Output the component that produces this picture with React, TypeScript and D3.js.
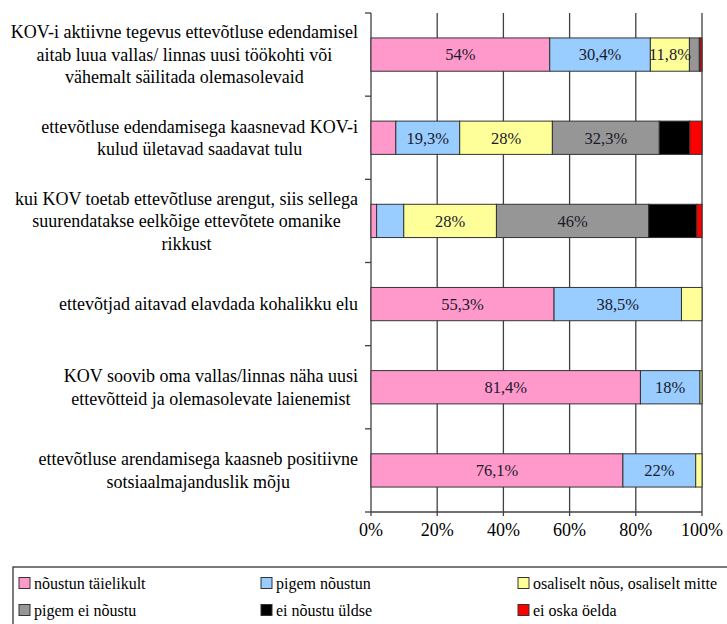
import React, { useEffect, useRef } from "react";
import * as d3 from "d3";

const categories: string[][] = [
  ["KOV-i aktiivne tegevus ettevõtluse edendamisel", "aitab luua vallas/ linnas uusi töökohti või", "vähemalt säilitada olemasolevaid"],
  ["ettevõtluse edendamisega kaasnevad KOV-i", "kulud ületavad saadavat tulu"],
  ["kui KOV toetab ettevõtluse arengut, siis sellega", "suurendatakse eelkõige ettevõtete omanike", "rikkust"],
  ["ettevõtjad aitavad elavdada kohalikku elu"],
  ["KOV soovib oma vallas/linnas näha uusi", "ettevõtteid ja olemasolevate laienemist"],
  ["ettevõtluse arendamisega kaasneb positiivne", "sotsiaalmajanduslik mõju"],
];

const seriesNames = [
  "nõustun täielikult",
  "pigem nõustun",
  "osaliselt nõus, osaliselt mitte",
  "pigem ei nõustu",
  "ei nõustu üldse",
  "ei oska öelda",
];
const seriesColors = ["#FF99CC", "#99CCFF", "#FFFF99", "#969696", "#000000", "#FF0000"];

const noustunTaielikult = [54, 7.5, 1.7, 55.3, 81.4, 76.1];
const pigemNoustun = [30.4, 19.3, 8.2, 38.5, 18, 22];
const osaliseltNous = [11.8, 28, 28, 6.2, 0.6, 1.9];
const pigemEiNoustu = [3.0, 32.3, 46, 0, 0, 0];
const eiNoustuUldse = [0.2, 9.2, 14.5, 0, 0, 0];
const eiOskaOelda = [0.6, 3.7, 1.6, 0, 0, 0];

const segmentLabels: (string | null)[][] = [
  ["54%", "30,4%", "11,8%", null, null, null],
  [null, "19,3%", "28%", "32,3%", null, null],
  [null, null, "28%", "46%", null, null],
  ["55,3%", "38,5%", null, null, null, null],
  ["81,4%", "18%", null, null, null, null],
  ["76,1%", "22%", null, null, null, null],
];

const tickValues = [0, 20, 40, 60, 80, 100];
const tickLabels = ["0%", "20%", "40%", "60%", "80%", "100%"];

const FONT = "'Liberation Serif', 'Times New Roman', serif";

export default function App() {
  const ref = useRef<SVGSVGElement>(null);

  useEffect(() => {
    const svg = d3.select(ref.current);
    svg.selectAll("*").remove();

    const left = 371, right = 702, top = 13, bottom = 512;
    const x = d3.scaleLinear().domain([0, 100]).range([left, right]);
    const y = d3
      .scaleBand<number>()
      .domain(d3.range(categories.length))
      .range([top, bottom])
      .paddingInner(0.6)
      .paddingOuter(0.3);
    const step = (bottom - top) / categories.length;

    const allSeries = [noustunTaielikult, pigemNoustun, osaliseltNous, pigemEiNoustu, eiNoustuUldse, eiOskaOelda];
    const rows = categories.map((_, i) => {
      const obj: Record<string, number> = {};
      seriesNames.forEach((s, k) => (obj[s] = allSeries[k][i]));
      return obj;
    });
    const stacked = d3.stack<Record<string, number>>().keys(seriesNames)(rows);

    const g = svg.append("g");

    // vertical gridlines
    g.selectAll("line.grid")
      .data(tickValues.slice(1))
      .join("line")
      .attr("x1", (d) => x(d))
      .attr("x2", (d) => x(d))
      .attr("y1", top)
      .attr("y2", bottom + 4)
      .attr("stroke", "#404040")
      .attr("stroke-width", 1.3);

    // left axis line and ticks
    g.append("line")
      .attr("x1", left).attr("x2", left)
      .attr("y1", top).attr("y2", bottom + 4)
      .attr("stroke", "#404040").attr("stroke-width", 1.3);
    g.selectAll("line.ytick")
      .data(d3.range(categories.length + 1))
      .join("line")
      .attr("x1", left - 6)
      .attr("x2", left)
      .attr("y1", (d) => top + d * step)
      .attr("y2", (d) => top + d * step)
      .attr("stroke", "#404040")
      .attr("stroke-width", 1.3);

    // bottom axis
    g.append("line")
      .attr("x1", left).attr("x2", right)
      .attr("y1", bottom).attr("y2", bottom)
      .attr("stroke", "#404040").attr("stroke-width", 1.3);

    g.selectAll("text.xtick")
      .data(tickValues)
      .join("text")
      .attr("x", (d) => x(d))
      .attr("y", 536)
      .attr("text-anchor", "middle")
      .attr("font-family", FONT)
      .attr("font-size", 18)
      .attr("fill", "#000")
      .text((_, i) => tickLabels[i]);

    // bars
    stacked.forEach((layer, k) => {
      g.selectAll(`rect.s${k}`)
        .data(layer.map((d, i) => ({ d, i })).filter((o) => o.d[1] - o.d[0] > 0))
        .join("rect")
        .attr("x", (o) => x(o.d[0]))
        .attr("width", (o) => x(o.d[1]) - x(o.d[0]))
        .attr("y", (o) => y(o.i)!)
        .attr("height", y.bandwidth())
        .attr("fill", seriesColors[k])
        .attr("stroke", "#333")
        .attr("stroke-width", 1);
    });

    stacked.forEach((layer, k) => {
      layer.forEach((d, i) => {
        const lab = segmentLabels[i][k];
        if (!lab) return;
        g.append("text")
          .attr("x", (x(d[0]) + x(d[1])) / 2)
          .attr("y", y(i)! + y.bandwidth() / 2)
          .attr("dy", "0.35em")
          .attr("text-anchor", "middle")
          .attr("font-family", FONT)
          .attr("font-size", 16.5)
          .attr("fill", "#1a1a2a")
          .text(lab);
      });
    });

    // category labels
    const lineH = 22.5;
    const labelRight = 358;
    categories.forEach((lines, i) => {
      const cy = y(i)! + y.bandwidth() / 2;
      const grp = g.append("g");
      const texts = lines.map((ln, j) =>
        grp
          .append("text")
          .attr("y", cy + (j - (lines.length - 1) / 2) * lineH)
          .attr("dy", "0.35em")
          .attr("text-anchor", "middle")
          .attr("font-family", FONT)
          .attr("font-size", 18)
          .attr("fill", "#000")
          .text(ln)
      );
      const maxW = d3.max(texts, (t) => (t.node() as SVGTextElement).getComputedTextLength()) || 0;
      texts.forEach((t) => t.attr("x", labelRight - maxW / 2));
    });

    // legend
    const lg = svg.append("g");
    lg.append("rect")
      .attr("x", 13).attr("y", 567)
      .attr("width", 800).attr("height", 62)
      .attr("fill", "none").attr("stroke", "#333").attr("stroke-width", 1.3);
    const colX = [19, 261, 518];
    const rowY = [583, 610];
    seriesNames.forEach((s, k) => {
      const cx = colX[k % 3];
      const cy = rowY[Math.floor(k / 3)];
      lg.append("rect")
        .attr("x", cx).attr("y", cy - 5.5)
        .attr("width", 11).attr("height", 11)
        .attr("fill", seriesColors[k]).attr("stroke", "#333").attr("stroke-width", 1);
      lg.append("text")
        .attr("x", cx + 15).attr("y", cy).attr("dy", "0.35em")
        .attr("font-family", FONT).attr("font-size", 16).attr("fill", "#000")
        .text(s);
    });
  }, []);

  return (
    <svg
      ref={ref}
      width={727}
      height={624}
      style={{ position: "absolute", left: 0, top: 0, background: "#fff" }}
    />
  );
}
